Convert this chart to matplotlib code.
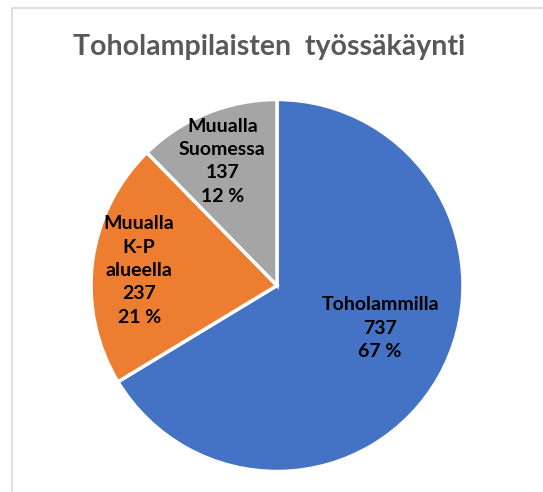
import numpy as np
import matplotlib.pyplot as plt
from matplotlib.patches import Rectangle

# ── data ──────────────────────────────────────────────────────────────────────
labels = ["Toholammilla", "Muualla\nK-P\nalueella", "Muualla\nSuomessa"]
values = [737, 237, 137]
percents = [67, 21, 12]
colors = ["#4472C4", "#ED7D31", "#A5A5A5"]
title = "Toholampilaisten  työssäkäynti"

# label placement (fraction of radius, angle tweak in degrees)
label_r = [0.60, 0.745, 0.73]
label_dang = [7.0, 1.0, 1.5]

plt.rcParams["font.family"] = ["Lato", "DejaVu Sans"]

W, H = 543, 492
fig = plt.figure(figsize=(W / 100, H / 100), dpi=100)

# chart border (light gray, cut off on right/bottom)
fig.patches.append(Rectangle((12 / W, -0.1), 1.2, 1 - 8 / H + 0.1,
                             transform=fig.transFigure, fill=False,
                             edgecolor="#D9D9D9", linewidth=1.2))

cx, cy, R = 277, 285.5, 186
ax = fig.add_axes([(cx - R) / W, (H - cy - R) / H, 2 * R / W, 2 * R / H])
wedges, _ = ax.pie(values, colors=colors, startangle=90, counterclock=False,
                   radius=1.0, wedgeprops=dict(edgecolor="white", linewidth=2.5))
ax.set_xlim(-1, 1)
ax.set_ylim(-1, 1)
ax.set_aspect("equal")
ax.axis("off")

for w, lab, v, p, r, da in zip(wedges, labels, values, percents, label_r, label_dang):
    ang = np.deg2rad((w.theta1 + w.theta2) / 2 + da)
    ax.text(r * np.cos(ang), r * np.sin(ang), f"{lab}\n{v}\n{p} %",
            ha="center", va="center", fontsize=14, fontweight="bold",
            color="black", linespacing=1.45)

fig.text(269 / W, 1 - 47 / H, title, ha="center", va="center",
         fontsize=20.5, fontweight="bold", color="#595959")

fig.savefig("out.png", dpi=100)
